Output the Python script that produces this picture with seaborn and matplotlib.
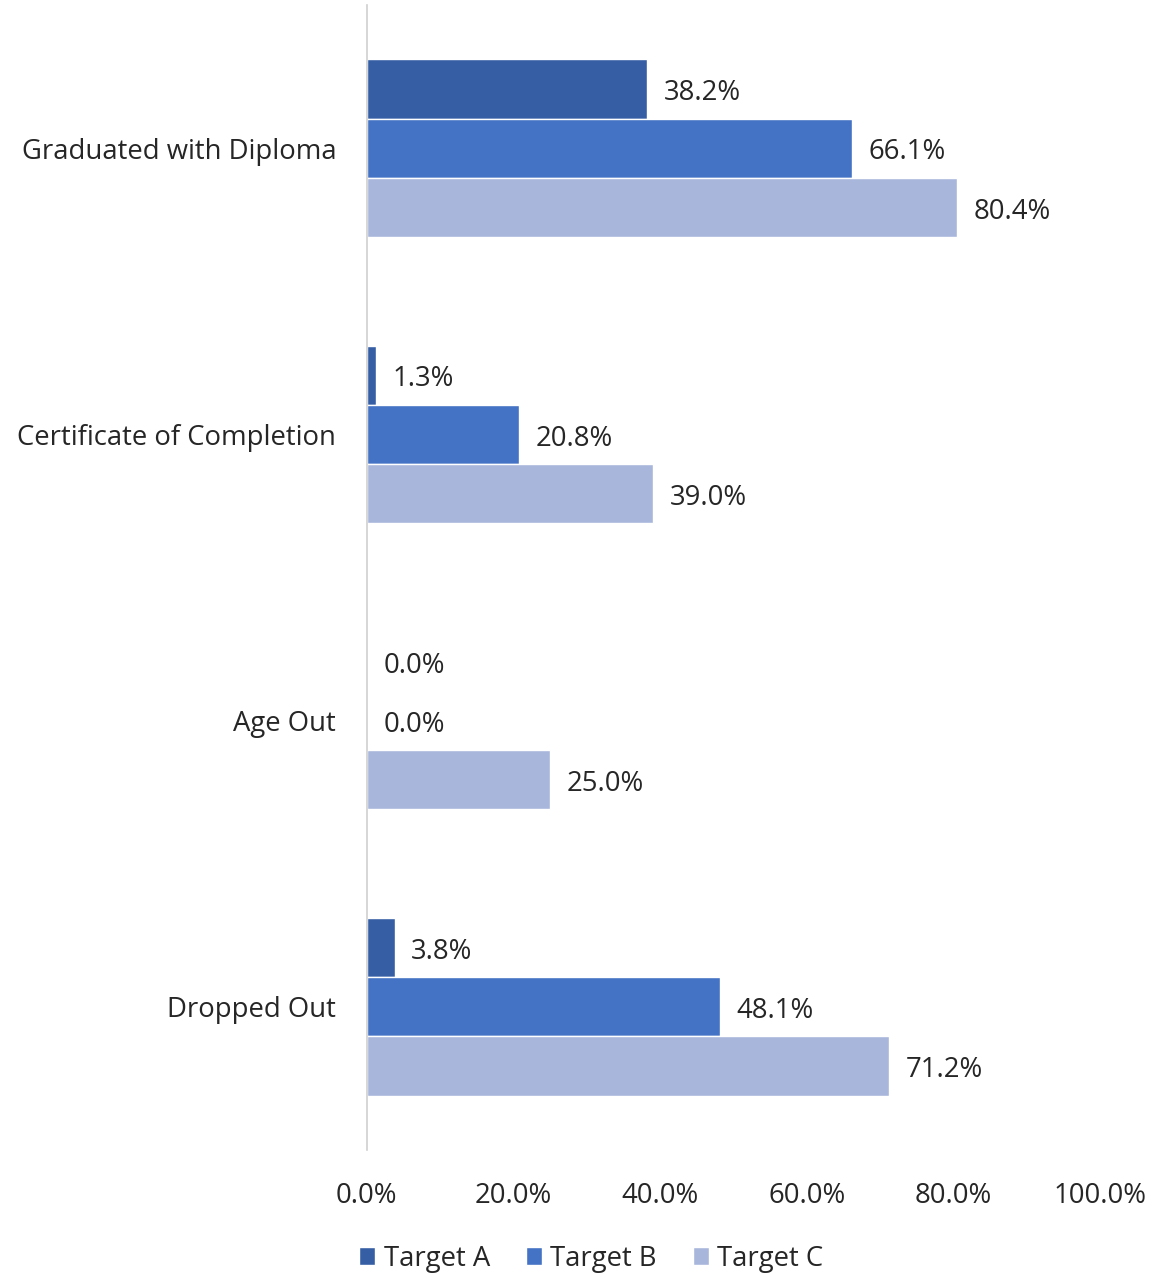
import matplotlib
matplotlib.use("Agg")
import matplotlib.pyplot as plt
import seaborn as sns
import pandas as pd
from matplotlib.ticker import FuncFormatter

categories = ["Graduated with Diploma", "Certificate of Completion", "Age Out", "Dropped Out"]
series = ["Target A", "Target B", "Target C"]
target_a = [38.2, 1.3, 0.0, 3.8]
target_b = [66.1, 20.8, 0.0, 48.1]
target_c = [80.4, 39.0, 25.0, 71.2]
x_ticks = [0, 20, 40, 60, 80, 100]

rows = []
for s, vals in zip(series, [target_a, target_b, target_c]):
    for c, v in zip(categories, vals):
        rows.append({"Category": c, "Series": s, "Value": v})
df = pd.DataFrame(rows)

sns.set_theme(style="white")
plt.rcParams['font.family'] = ['Open Sans', 'DejaVu Sans']

FS = 19.8
fig = plt.figure(figsize=(11.57, 12.74), dpi=100)
ax = fig.add_axes([0.317, 0.0973, 0.634, 0.8987])

palette = {"Target A": "#355EA5", "Target B": "#4472C4", "Target C": "#A9B6DC"}
sns.barplot(data=df, y="Category", x="Value", hue="Series", order=categories,
            hue_order=series, palette=palette, orient="h", width=0.62,
            saturation=1, ax=ax, legend=True)

for cont in ax.containers:
    texts = ax.bar_label(cont, labels=[f"{v:.1f}%" for v in cont.datavalues],
                         padding=12, fontsize=FS, color="#262626")
    for t in texts:
        x, y = t.xyann
        t.xyann = (x, y - 3)

ax.set_xlim(0, 100)
ax.set_xticks(x_ticks)
ax.xaxis.set_major_formatter(FuncFormatter(lambda v, p: f"{v:.1f}%"))
ax.set_xlabel("")
ax.set_ylabel("")
ax.tick_params(axis="x", length=0, pad=23, labelsize=FS, labelcolor="#262626")
ax.tick_params(axis="y", length=0, pad=22, labelsize=FS, labelcolor="#262626")
for side in ["top", "right", "bottom"]:
    ax.spines[side].set_visible(False)
ax.spines["left"].set_color("#D0D0D0")
ax.spines["left"].set_linewidth(1.2)
ax.grid(False)

ax.legend(loc="center", bbox_to_anchor=(0.306, -0.095),
          ncol=3, frameon=False, fontsize=FS, handlelength=0.6, handleheight=0.6,
          handletextpad=0.3, columnspacing=1.3, labelcolor="#262626")

fig.savefig("out.png", dpi=100)
